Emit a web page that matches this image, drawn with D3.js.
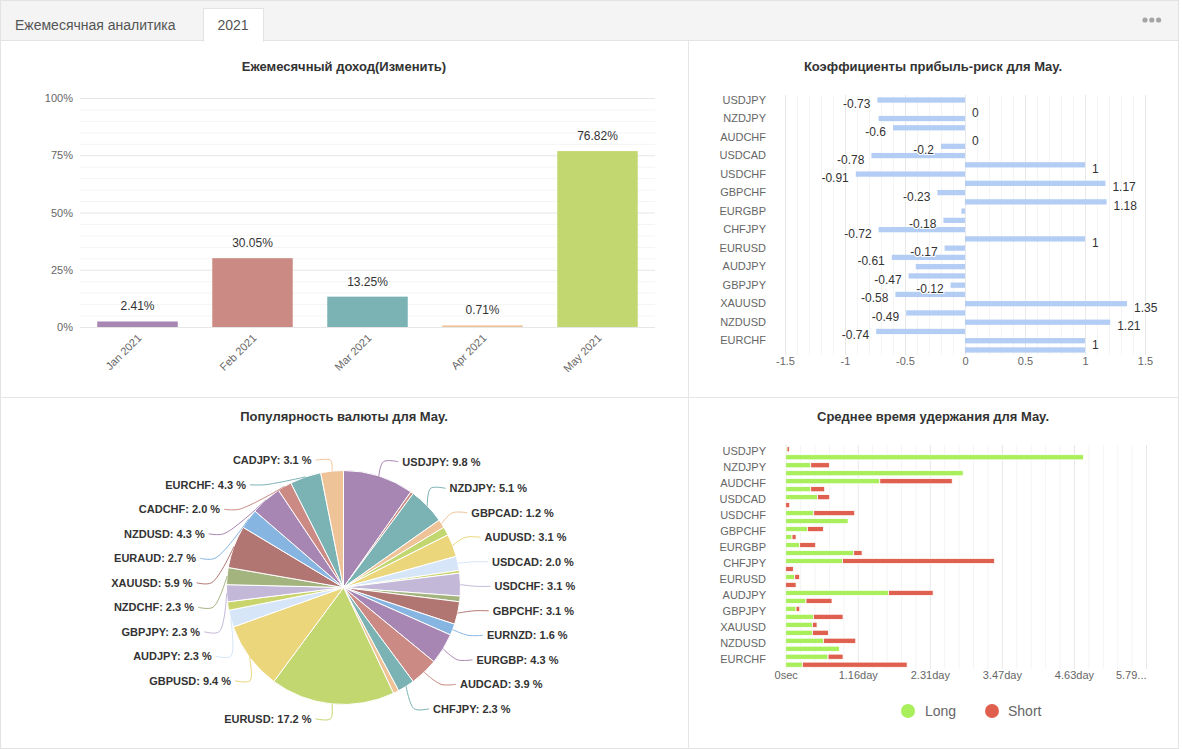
<!DOCTYPE html>
<html><head><meta charset="utf-8">
<script src="https://cdn.jsdelivr.net/npm/d3@7"></script>
<style>
html,body{margin:0;padding:0;background:#fff;overflow:hidden;}
svg text{font-family:"Liberation Sans",Arial,sans-serif;}
</style></head><body>
<svg id="c" width="1182" height="749"></svg>
<script>
// ---------------- DATA ----------------
const tabLabels = ["Ежемесячная аналитика", "2021"];
const chartTitles = ["Ежемесячный доход(Изменить)", "Коэффициенты прибыль-риск для May.",
                     "Популярность валюты для May.", "Среднее время удержания для May."];

const months = ["Jan 2021", "Feb 2021", "Mar 2021", "Apr 2021", "May 2021"];
const monthlyReturn = [2.41, 30.05, 13.25, 0.71, 76.82];
const returnTicks = [0, 25, 50, 75, 100];

const symbols = ["USDJPY","EURJPY","NZDJPY","GBPCAD","AUDCHF","AUDUSD","USDCAD","AUDNZD",
  "USDCHF","EURCAD","GBPCHF","EURNZD","EURGBP","AUDCAD","CHFJPY","GBPAUD","EURUSD","GBPUSD",
  "AUDJPY","NZDCAD","GBPJPY","NZDCHF","XAUUSD","EURAUD","NZDUSD","CADCHF","EURCHF","CADJPY"];

const profitRisk = [-0.73, 0, -0.72, -0.6, 0, -0.2, -0.78, 1, -0.91, 1.17, -0.23, 1.18, -0.03, -0.18,
  -0.72, 1, -0.17, -0.61, -0.41, -0.47, -0.12, -0.58, 1.35, -0.49, 1.21, -0.74, 1, 1];
const profitRiskHiddenLabels = ["NZDJPY", "EURGBP", "AUDJPY", "CADJPY"];
const profitRiskTicks = [-1.5, -1, -0.5, 0, 0.5, 1, 1.5];

const pieCounts = [25, 1, 13, 3, 3, 8, 5, 1, 8, 2, 8, 4, 11, 10, 6, 2, 44, 24, 6, 3, 6, 6, 15, 7, 11, 5, 11, 8];
const pieHiddenLabels = ["EURJPY", "AUDCHF", "AUDNZD", "EURCAD", "GBPAUD", "NZDCAD"];

// average holding time, seconds
const holdLong = [1850, 413400, 34700, 246300, 130600, 34700, 44000, 0, 38900, 86600, 30100, 8800, 19400, 94400,
  78700, 0, 12500, 0, 142600, 28200, 14400, 38400, 37000, 37000, 52300, 74500, 58800, 23100];
const holdShort = [3240, 0, 25900, 0, 100500, 19400, 17100, 5600, 56900, 0, 22200, 5600, 22200, 11600,
  211100, 10600, 6900, 14400, 62000, 36100, 5100, 41200, 6500, 22200, 44900, 0, 20800, 145400];
const holdTicks = [0, 100000, 200000, 300000, 400000, 500000];
const legendLabels = ["Long", "Short"];

const palette = ["#a886b4","#cc8a84","#7bb2b4","#efc398","#c3d771","#ebd67b",
                 "#d6e6f8","#cad46d","#c4b8d8","#a3b47f","#b27672","#86b5e2"];

// ---------------- DRAW ----------------
const svg = d3.select("#c");

// header / frame
svg.append("rect").attr("x",0).attr("y",0).attr("width",1179).attr("height",40).attr("fill","#f4f4f4");
svg.append("line").attr("x1",0).attr("x2",1179).attr("y1",40.5).attr("y2",40.5).attr("stroke","#e3e3e3");
svg.append("rect").attr("x",203.5).attr("y",8.5).attr("width",60).attr("height",33)
  .attr("fill","#fff").attr("stroke","#e3e3e3");
svg.append("rect").attr("x",204).attr("y",39).attr("width",59).attr("height",3).attr("fill","#fff");
svg.append("text").attr("x",15).attr("y",25).attr("dominant-baseline","central")
  .attr("font-size",14).attr("fill","#555").text(tabLabels[0]);
svg.append("text").attr("x",233).attr("y",25).attr("text-anchor","middle").attr("dominant-baseline","central")
  .attr("font-size",14).attr("fill","#555").text(tabLabels[1]);
svg.append("g").selectAll("circle").data([0,1,2]).join("circle")
  .attr("cx",d=>1145+d*6.8).attr("cy",20).attr("r",2.6).attr("fill","#a5a5a5");
svg.append("rect").attr("x",0.5).attr("y",0.5).attr("width",1178).attr("height",748)
  .attr("fill","none").attr("stroke","#e3e3e3");
svg.append("line").attr("x1",688.5).attr("x2",688.5).attr("y1",41).attr("y2",749).attr("stroke","#e6e6e6");
svg.append("line").attr("x1",0).attr("x2",1179).attr("y1",397.5).attr("y2",397.5).attr("stroke","#e6e6e6");

// titles
[[344,66],[933,66],[344,416],[933,416]].forEach((p,i)=>{
  svg.append("text").attr("x",p[0]).attr("y",p[1]).attr("text-anchor","middle").attr("dominant-baseline","central")
    .attr("font-size",13).attr("font-weight","bold").attr("fill","#333").text(chartTitles[i]);
});

function styleGrid(g, color){
  g.select(".domain").remove();
  g.selectAll(".tick line").attr("stroke",color);
}

// ---- top-left: monthly return ----
{
  const g = svg.append("g");
  const x = d3.scaleBand().domain(months).range([80,655]).paddingInner(0.3).paddingOuter(0.15);
  const y = d3.scaleLinear().domain([0,100]).range([327,98]);
  const minor = d3.range(0,101,5).filter(d=>d%25!==0);
  g.append("g").attr("transform","translate(80,0)")
    .call(d3.axisLeft(y).tickValues(minor).tickSize(-575).tickFormat(""))
    .call(s=>styleGrid(s,"#f4f4f4"));
  g.append("g").attr("transform","translate(80,0)")
    .call(d3.axisLeft(y).tickValues(returnTicks).tickSize(-575).tickFormat(""))
    .call(s=>styleGrid(s,"#e6e6e6"));
  const ya = g.append("g").attr("transform","translate(80,0)")
    .call(d3.axisLeft(y).tickValues(returnTicks).tickFormat(d=>d+"%").tickSize(0).tickPadding(7));
  ya.select(".domain").remove();
  ya.selectAll("text").attr("font-size",11).attr("fill","#666").attr("font-family",null);
  g.append("g").selectAll("rect").data(monthlyReturn).join("rect")
    .attr("x",(d,i)=>x(months[i])).attr("width",x.bandwidth())
    .attr("y",d=>y(d)).attr("height",d=>y(0)-y(d))
    .attr("fill",(d,i)=>palette[i]);
  g.append("g").selectAll("text").data(monthlyReturn).join("text")
    .attr("x",(d,i)=>x(months[i])+x.bandwidth()/2).attr("y",d=>y(d)-11)
    .attr("text-anchor","middle").attr("font-size",12).attr("fill","#333")
    .text(d=>d.toFixed(2)+"%");
  const xa = g.append("g").attr("transform","translate(0,327)")
    .call(d3.axisBottom(x).tickSize(0).tickPadding(0));
  xa.select(".domain").remove();
  xa.selectAll("text").attr("font-size",11).attr("fill","#666").attr("font-family",null)
    .attr("x",0).attr("y",0).attr("dy","0.35em").attr("text-anchor","end")
    .attr("transform","translate(2,9) rotate(-45)");
}

// ---- top-right: profit-risk ----
{
  const g = svg.append("g");
  const x = d3.scaleLinear().domain([-1.5,1.5]).range([785,1145]);
  const y = d3.scaleBand().domain(symbols).range([95.4,354.6]).paddingInner(0.43).paddingOuter(0.215);
  const minor = d3.range(-15,16).filter(d=>d%5!==0).map(d=>d/10);
  g.append("g").attr("transform","translate(0,355)")
    .call(d3.axisBottom(x).tickValues(minor).tickSize(-260).tickFormat(""))
    .call(s=>styleGrid(s,"#f4f4f4"));
  g.append("g").attr("transform","translate(0,355)")
    .call(d3.axisBottom(x).tickValues(profitRiskTicks).tickSize(-260).tickFormat(""))
    .call(s=>styleGrid(s,"#e8e8e8"));
  const xa = g.append("g").attr("transform","translate(0,355)")
    .call(d3.axisBottom(x).tickValues(profitRiskTicks).tickFormat(d=>String(d)).tickSize(0).tickPadding(2));
  xa.select(".domain").remove();
  xa.selectAll("text").attr("font-size",11).attr("fill","#666").attr("font-family",null);
  const ya = g.append("g").attr("transform","translate(773,0)")
    .call(d3.axisLeft(y).tickValues(symbols.filter((d,i)=>i%2===0)).tickSize(0).tickPadding(7));
  ya.select(".domain").remove();
  ya.selectAll("text").attr("font-size",11).attr("fill","#666").attr("font-family",null);
  g.append("g").selectAll("rect").data(profitRisk).join("rect")
    .attr("x",d=>Math.min(x(0),x(d))).attr("width",d=>Math.abs(x(d)-x(0)))
    .attr("y",(d,i)=>y(symbols[i])).attr("height",y.bandwidth())
    .attr("fill","#b3cdf5");
  g.append("g").selectAll("text")
    .data(profitRisk.map((v,i)=>({v,s:symbols[i]})).filter(d=>!profitRiskHiddenLabels.includes(d.s)))
    .join("text")
    .attr("x",d=>d.v<0 ? x(d.v)-7 : x(d.v)+7)
    .attr("y",d=>y(d.s)+y.bandwidth()/2+4)
    .attr("text-anchor",d=>d.v<0?"end":"start").attr("dominant-baseline","central")
    .attr("font-size",12).attr("fill","#333")
    .attr("stroke","#fff").attr("stroke-width",2).attr("paint-order","stroke")
    .text(d=>String(d.v));
}

// ---- bottom-left: pie ----
{
  const g = svg.append("g");
  const cx = 343.5, cy = 587.5, R = 117;
  const pieData = symbols.map((s,i)=>({name:s, count:pieCounts[i]}));
  const total = d3.sum(pieCounts);
  const arcs = d3.pie().value(d=>d.count).sort(null)(pieData);
  const arcGen = d3.arc().innerRadius(0).outerRadius(R);
  g.append("g").attr("transform",`translate(${cx},${cy})`)
    .selectAll("path").data(arcs).join("path")
    .attr("d",arcGen).attr("fill",d=>palette[d.index%12])
    .attr("stroke","#fff").attr("stroke-width",1);

  const L1 = 15, L2 = 15, GAP = 4, H = 24.5, minY = 460.25, maxY = 735;
  const labs = arcs.filter(a=>!pieHiddenLabels.includes(a.data.name)).map(a=>{
    const m = (a.startAngle+a.endAngle)/2, s = Math.sin(m), c = Math.cos(m);
    return {a, dir: s<0?-1:1, p0:[cx+R*s, cy-R*c], p1x: cx+(R+L1)*s, ny: cy-(R+L1)*c};
  });
  function layoutSide(items){
    items.sort((u,v)=>u.ny-v.ny);
    const place = c=>{ const n=c.items.length;
      let y0 = d3.mean(c.items,d=>d.ny)-(n-1)*H/2;
      y0 = Math.max(minY, Math.min(y0, maxY-(n-1)*H)); c.y0=y0; };
    const cl = items.map(it=>({items:[it]})); cl.forEach(place);
    let merged = true;
    while(merged){ merged=false;
      for(let i=1;i<cl.length;i++){ const p=cl[i-1], q=cl[i];
        if(q.y0 < p.y0 + p.items.length*H - 1e-6){ p.items=p.items.concat(q.items); cl.splice(i,1); place(p); merged=true; break; } } }
    cl.forEach(c=>c.items.forEach((it,k)=>it.ly=c.y0+k*H));
    const rA = R+L1;
    [items.filter(it=>it.ly<=cy), items.filter(it=>it.ly>cy)].forEach(semi=>{
      if(!semi.length) return;
      const ext = semi.reduce((u,v)=>Math.abs(v.ly-cy)>Math.abs(u.ly-cy)?v:u);
      const dy0 = Math.abs(ext.ly-cy), dx0 = Math.abs(ext.p1x-cx);
      const rB = dx0<rA ? Math.sqrt(dy0*dy0/(1-dx0*dx0/(rA*rA))) : rA;
      semi.forEach(it=>{ const dy=Math.abs(it.ly-cy); it.dx=Math.sqrt(Math.max(0,1-dy*dy/(rB*rB)))*rA; });
    });
  }
  layoutSide(labs.filter(d=>d.dir>0));
  layoutSide(labs.filter(d=>d.dir<0));
  const line = d3.line().curve(d3.curveCatmullRom.alpha(0.5));
  g.append("g").selectAll("path").data(labs).join("path")
    .attr("d",d=>line([d.p0,[cx+d.dir*d.dx,d.ly],[cx+d.dir*(d.dx+L2),d.ly]]))
    .attr("fill","none").attr("stroke",d=>palette[d.a.index%12]).attr("stroke-width",1);
  g.append("g").selectAll("text").data(labs).join("text")
    .attr("x",d=>cx+d.dir*(d.dx+L2+GAP)).attr("y",d=>d.ly)
    .attr("text-anchor",d=>d.dir>0?"start":"end").attr("dominant-baseline","central")
    .attr("font-size",11).attr("font-weight","bold").attr("fill","#333")
    .text(d=>`${d.a.data.name}: ${(d.a.data.count/total*100).toFixed(1)} %`);
}

// ---- bottom-right: holding time ----
{
  const g = svg.append("g");
  const x = d3.scaleLinear().domain([0,500000]).range([785.7,1146]);
  const y = d3.scaleBand().domain(symbols).range([445.3,668.7]).paddingInner(0.35).paddingOuter(0.175);
  const minor = d3.range(0,500001,20000).filter(d=>d%100000!==0);
  g.append("g").attr("transform","translate(0,669)")
    .call(d3.axisBottom(x).tickValues(minor).tickSize(-224).tickFormat(""))
    .call(s=>styleGrid(s,"#f4f4f4"));
  g.append("g").attr("transform","translate(0,669)")
    .call(d3.axisBottom(x).tickValues(holdTicks).tickSize(-224).tickFormat(""))
    .call(s=>styleGrid(s,"#e8e8e8"));
  const fmt = v=> v===0 ? "0sec" : (v/86400).toFixed(2)+"day";
  const xa = g.append("g").attr("transform","translate(0,669)")
    .call(d3.axisBottom(x).tickValues(holdTicks).tickFormat(fmt).tickSize(0).tickPadding(2));
  xa.select(".domain").remove();
  xa.selectAll("text").attr("font-size",11).attr("fill","#666").attr("font-family",null);
  // truncate the last label so that it ends at the plot edge
  xa.selectAll("text").filter((d,i,n)=>i===n.length-1).each(function(){
    const t = d3.select(this).attr("text-anchor","end");
    let s = t.text();
    while(this.getComputedTextLength()>32 && s.length>1){ s=s.slice(0,-1); t.text(s+"..."); }
  });
  const ya = g.append("g").attr("transform","translate(773,2.5)")
    .call(d3.axisLeft(y).tickValues(symbols.filter((d,i)=>i%2===0)).tickSize(0).tickPadding(7));
  ya.select(".domain").remove();
  ya.selectAll("text").attr("font-size",11).attr("fill","#666").attr("font-family",null);
  const rows = symbols.map((s,i)=>({s, long:holdLong[i], short:holdShort[i]}));
  const stack = d3.stack().keys(["long","short"])(rows);
  const colors = {long:"#a9ef5b", short:"#e0604f"};
  g.append("g").selectAll("g").data(stack).join("g").attr("fill",d=>colors[d.key])
    .selectAll("rect").data(d=>d).join("rect")
    .attr("x",d=>x(d[0])).attr("width",d=>Math.max(0,x(d[1])-x(d[0])))
    .attr("y",d=>y(d.data.s)).attr("height",y.bandwidth())
    .attr("stroke",d=>d[1]>d[0]?"#fff":"none").attr("stroke-width",0.8);
  const lg = g.append("g");
  legendLabels.forEach((l,i)=>{
    lg.append("circle").attr("cx",908+i*84).attr("cy",711).attr("r",7).attr("fill",colors[l.toLowerCase()]);
    lg.append("text").attr("x",925+i*83).attr("y",711).attr("dominant-baseline","central")
      .attr("font-size",14).attr("fill","#666").text(l);
  });
}
</script>
</body></html>
